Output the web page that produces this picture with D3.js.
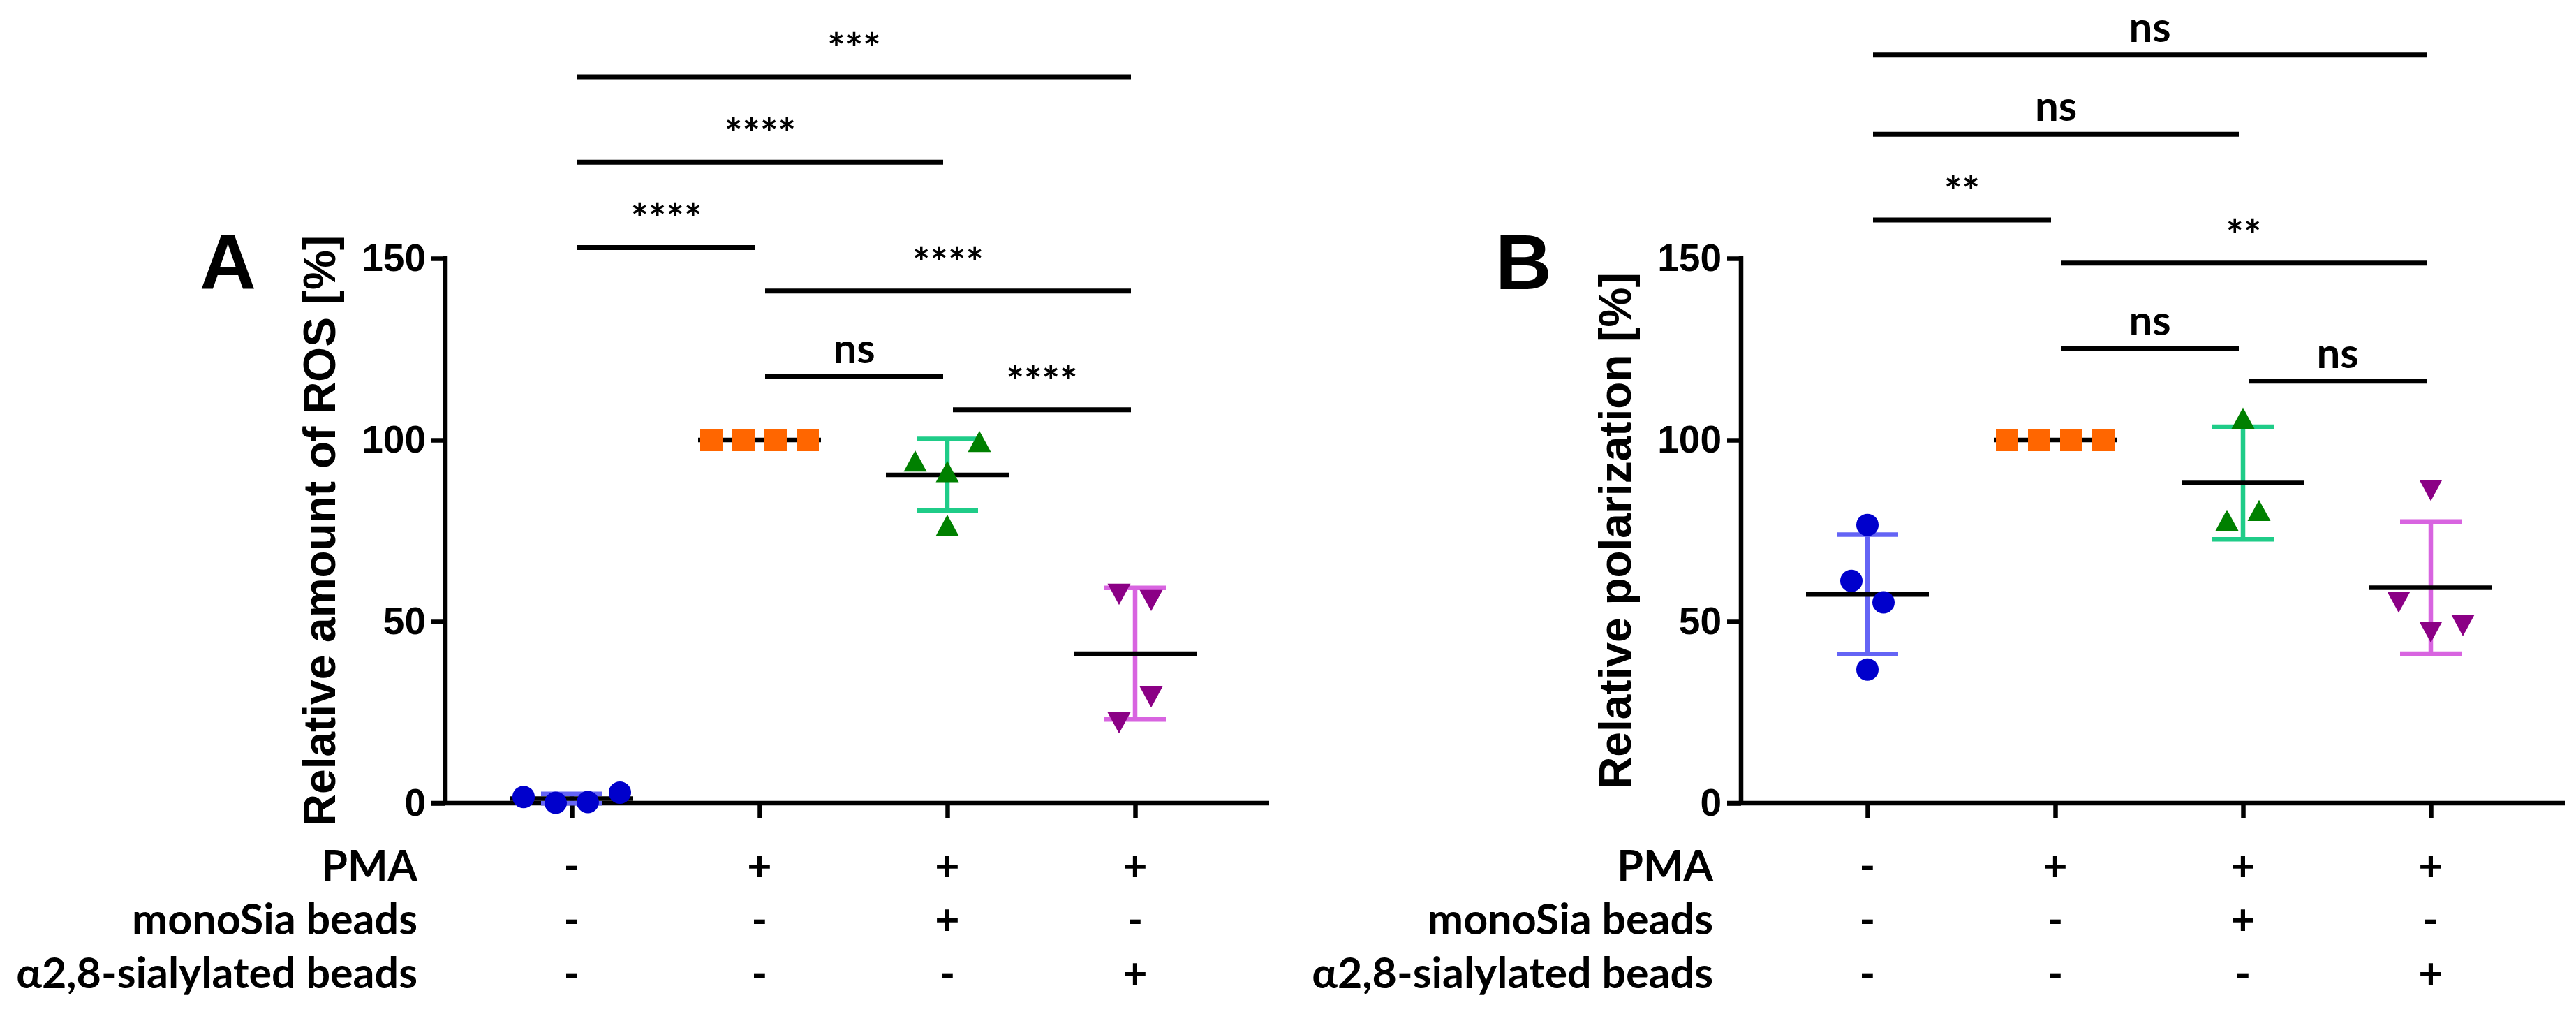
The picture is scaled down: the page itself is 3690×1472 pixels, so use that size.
<!DOCTYPE html>
<html>
<head>
<meta charset="utf-8">
<script src="https://cdn.jsdelivr.net/npm/d3@7"></script>
<style>
  body { margin: 0; background: #fff; }
  svg { display: block; }
</style>
</head>
<body>
<svg id="fig"></svg>
<script>
// Group rows shown under the x axis
const rowLabels = ["PMA", "monoSia beads", "α2,8-sialylated beads"];
const rowSigns = [
    ["-", "+", "+", "+"],
    ["-", "-", "+", "-"],
    ["-", "-", "-", "+"]
];
const yTicks = [0, 50, 100, 150];

// Panel A: relative amount of ROS [%]
const rosCtrl = [1.7, 0.1, 0.3, 2.9];
const rosPma = [100, 100, 100, 100];
const rosMono = [94.2, 91.3, 99.6, 76.5];
const rosPoly = [57.5, 55.8, 22.1, 29.2];
const rosSigPairs = [[0, 3], [0, 2], [0, 1], [1, 3], [1, 2], [2, 3]];
const rosSigText = ["***", "****", "****", "****", "ns", "****"];
const rosSigLevel = [200, 176.5, 153, 141, 117.5, 108.3];

// Panel B: relative polarization [%]
const polCtrl = [76.6, 61.2, 55.3, 36.8];
const polPma = [100, 100, 100, 100];
const polMono = [106, 77.9, 80.6];
const polPoly = [86.1, 55.3, 47.1, 48.9];
const polSigPairs = [[0, 3], [0, 2], [0, 1], [1, 3], [1, 2], [2, 3]];
const polSigText = ["ns", "ns", "**", "**", "ns", "ns"];
const polSigLevel = [206, 184.2, 160.6, 148.7, 125.2, 116.2];

/*
 * Layout of the figure (pixels)
 */
const dims = {
    width: 3690,
    height: 1472,
    yTop: 370,
    yBottom: 1150,
    catGap: 181,
    catSpan: 807,
    axisRight: 1180,
    tick: 20
};

// marker look per group: shape, fill, error bar colour
const groupStyle = [
    { shape: "circle", fill: "#0000cc", err: "#6464f5" },
    { shape: "square", fill: "#ff6600", err: "#ff9a5c" },
    { shape: "up", fill: "#008000", err: "#1fcc88" },
    { shape: "down", fill: "#8b0085", err: "#d864e0" }
];

const triUp = {
    draw(ctx, size) {
        const s = Math.sqrt(size), h = s * 0.92;
        ctx.moveTo(0, -h / 2); ctx.lineTo(s / 2, h / 2); ctx.lineTo(-s / 2, h / 2); ctx.closePath();
    }
};
const triDown = {
    draw(ctx, size) {
        const s = Math.sqrt(size), h = s * 0.92;
        ctx.moveTo(0, h / 2); ctx.lineTo(s / 2, -h / 2); ctx.lineTo(-s / 2, -h / 2); ctx.closePath();
    }
};
const symbolFor = {
    circle: d3.symbol().type(d3.symbolCircle).size(Math.PI * 16 * 16),
    square: d3.symbol().type(d3.symbolSquare).size(32 * 32),
    up: d3.symbol().type(triUp).size(33 * 33),
    down: d3.symbol().type(triDown).size(33 * 33)
};

const svg = d3.select("#fig")
    .attr("width", dims.width)
    .attr("height", dims.height);

const y = d3.scaleLinear()
    .domain([0, 150])
    .range([dims.yBottom, dims.yTop]);

/*
 * Spread points of similar value sideways, like a scatter dot plot
 */
function spread(values) {
    const offs = new Array(values.length).fill(0);
    let cluster = [];
    const flush = () => {
        cluster.forEach((idx, k) => { offs[idx] = (k - (cluster.length - 1) / 2) * 46; });
        cluster = [];
    };
    values.forEach((v, i) => {
        if (cluster.length && d3.min(cluster, j => Math.abs(y(values[j]) - y(v))) > 48) flush();
        cluster.push(i);
    });
    flush();
    return offs;
}

/*
 * Draws one panel: axes, dots, mean +- SD, comparisons
 */
function panel(x0, letter, title, groups, sigPairs, sigText, sigLevel) {
    const g = svg.append("g");
    const x = d3.scalePoint()
        .domain(d3.range(groups.length))
        .range([x0 + dims.catGap, x0 + dims.catGap + dims.catSpan]);

    // y axis
    g.append("g")
        .attr("transform", `translate(${x0},0)`)
        .call(d3.axisLeft(y).tickValues(yTicks).tickSize(dims.tick).tickSizeOuter(0).tickPadding(8))
        .call(a => a.select(".domain").attr("stroke-width", 6.5).attr("d", `M0,${y(150) - 3}V${y(0)}`))
        .call(a => a.selectAll(".tick line").attr("stroke-width", 6.5))
        .call(a => a.selectAll(".tick text")
            .attr("font-family", "'Liberation Sans', Arial, sans-serif")
            .attr("font-weight", "bold")
            .attr("font-size", 55)
            .attr("fill", "#000"));

    // x axis baseline and category ticks
    g.append("line")
        .attr("x1", x0 - dims.tick).attr("x2", x0 + dims.axisRight)
        .attr("y1", y(0)).attr("y2", y(0))
        .attr("stroke", "#000").attr("stroke-width", 6.5);
    g.append("g")
        .attr("transform", `translate(0,${y(0)})`)
        .call(d3.axisBottom(x).tickSize(22).tickFormat(""))
        .call(a => a.select(".domain").remove())
        .call(a => a.selectAll(".tick line").attr("stroke-width", 6.5));

    // panel letter
    g.append("text")
        .attr("x", x0 - 352).attr("y", 414)
        .attr("font-family", "'Liberation Sans', Arial, sans-serif")
        .attr("font-weight", "bold").attr("font-size", 112)
        .text(letter);

    // y title
    g.append("text")
        .attr("transform", `translate(${x0 - 158},${(y(0) + y(150)) / 2}) rotate(-90)`)
        .attr("text-anchor", "middle")
        .attr("font-family", "'Liberation Sans', Arial, sans-serif")
        .attr("font-weight", "bold").attr("font-size", 64)
        .text(title);

    // condition rows
    rowLabels.forEach((lab, r) => {
        const by = 1261 + r * 77;
        g.append("text")
            .attr("x", x0 - 40).attr("y", by)
            .attr("text-anchor", "end")
            .attr("font-family", "Lato, 'Open Sans', sans-serif")
            .attr("font-weight", "bold").attr("font-size", 61)
            .text(lab);
        g.selectAll(null)
            .data(rowSigns[r])
            .join("text")
            .attr("x", (d, i) => x(i)).attr("y", by)
            .attr("text-anchor", "middle")
            .attr("font-family", "Lato, 'Open Sans', sans-serif")
            .attr("font-weight", "bold").attr("font-size", 61)
            .text(d => d);
    });

    // error bars, means, dots
    groups.forEach((vals, i) => {
        const st = groupStyle[i];
        const cx = x(i);
        const m = d3.mean(vals);
        const sd = d3.deviation(vals) || 0;
        if (sd > 0) {
            g.append("line")
                .attr("x1", cx).attr("x2", cx)
                .attr("y1", y(m - sd)).attr("y2", y(m + sd))
                .attr("stroke", st.err).attr("stroke-width", 6.5);
            g.selectAll(null)
                .data([m - sd, m + sd])
                .join("line")
                .attr("x1", cx - 44).attr("x2", cx + 44)
                .attr("y1", d => y(d)).attr("y2", d => y(d))
                .attr("stroke", st.err).attr("stroke-width", 6.5);
        }
        g.append("line")
            .attr("x1", cx - 88).attr("x2", cx + 88)
            .attr("y1", y(m)).attr("y2", y(m))
            .attr("stroke", "#000").attr("stroke-width", 6.5);

        const offs = spread(vals);
        g.selectAll(null)
            .data(vals)
            .join("path")
            .attr("transform", (d, k) => `translate(${cx + offs[k]},${y(d)})`)
            .attr("d", symbolFor[st.shape]())
            .attr("fill", st.fill);
    });

    // significance comparisons
    sigPairs.forEach((p, k) => {
        const xa = x(p[0]) + 8, xb = x(p[1]) - 6;
        const ly = y(sigLevel[k]);
        g.append("line")
            .attr("x1", xa).attr("x2", xb)
            .attr("y1", ly).attr("y2", ly)
            .attr("stroke", "#000").attr("stroke-width", 7);
        g.append("text")
            .attr("x", (xa + xb) / 2).attr("y", ly - 19)
            .attr("text-anchor", "middle")
            .attr("font-family", "Lato, 'Open Sans', sans-serif")
            .attr("font-weight", "bold")
            .attr("font-size", 60)
            .text(sigText[k]);
    });
}

panel(638, "A", "Relative amount of ROS [%]",
    [rosCtrl, rosPma, rosMono, rosPoly], rosSigPairs, rosSigText, rosSigLevel);
panel(2494, "B", "Relative polarization [%]",
    [polCtrl, polPma, polMono, polPoly], polSigPairs, polSigText, polSigLevel);
</script>
</body>
</html>
